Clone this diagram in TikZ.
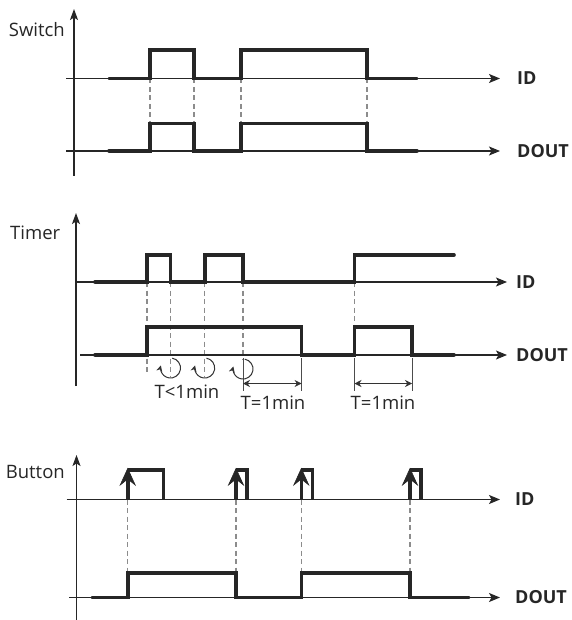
\documentclass[tikz,border=0pt]{standalone}
\usepackage{fontspec}
\setmainfont{Open Sans}
\usetikzlibrary{arrows.meta}
\begin{document}
\begin{tikzpicture}[x=1pt,y=-1pt,
  axis/.style={line width=1.2pt, black!85, -{Stealth[length=11pt,width=9pt,inset=2.5pt]}},
  vaxis/.style={line width=1.2pt, black!85, -{Stealth[length=11pt,width=8pt,inset=2.5pt]}},
  sig/.style={line width=3.6pt, black!85, line cap=round, line join=miter},
  guide/.style={line width=1.3pt, gray!90, dash pattern=on 5pt off 3.5pt},
  ext/.style={line width=0.8pt, black!70},
  dimline/.style={line width=0.8pt, black!80, {Stealth[length=7pt,width=7pt]}-{Stealth[length=7pt,width=7pt]}},
  turn/.style={line width=1pt, black!80, -{Stealth[length=6pt,width=6pt]}},
  btnshaft/.style={line width=3.6pt, black!85},
  btnhead/.style={fill=black!85, draw=black!85, line width=0.6pt, line join=miter},
  lbl/.style={font=\fontsize{18.5}{18.5}\selectfont, inner sep=0pt, text=black!85},
  outlbl/.style={font=\bfseries\fontsize{18}{18}\selectfont, inner sep=0pt, text=black!85},
  tlbl/.style={font=\fontsize{18.5}{18.5}\selectfont, inner sep=0pt, text=black!85}
]
\useasboundingbox (0,0) rectangle (571,620);

% ================= Switch =================
\foreach \x in {150,194,241,367}{\draw[guide] (\x,78.5) -- (\x,123.5);}
\draw[vaxis] (74,176) -- (74,9);
\draw[axis] (66,78.5) -- (500,78.5);
\draw[axis] (66,151) -- (500,151);
\draw[sig] (109,78.5) -- (150,78.5) -- (150,50) -- (194,50) -- (194,78.5) -- (241,78.5)
  -- (241,50) -- (367,50) -- (367,78.5) -- (417,78.5);
\draw[sig] (109,151) -- (150,151) -- (150,123.5) -- (194,123.5) -- (194,151) -- (241,151)
  -- (241,123.5) -- (367,123.5) -- (367,151) -- (417,151);
\node[lbl, anchor=east] (swl) at (65,30) {Switch};
\node[outlbl, anchor=west] (swid) at (517,78.5) {ID};
\node[outlbl, anchor=west] (swdo) at (517,151) {DOUT};

% ================= Timer =================
\draw[guide] (147,282) -- (147,375);
\draw[guide] (170.5,282) -- (170.5,377);
\draw[guide] (204.7,282) -- (204.7,377);
\draw[guide] (243,282) -- (243,360);
\draw[guide] (354.5,282) -- (354.5,327);
\draw[vaxis] (76,386) -- (76,213);
\draw[axis] (76,282) -- (507,282);
\draw[axis] (80,355) -- (507,355);
\draw[sig] (95,282) -- (147,282) -- (147,255) -- (170.5,255) -- (170.5,282) -- (204.7,282)
  -- (204.7,255) -- (243,255) -- (243,282) -- (354.5,282) -- (354.5,255) -- (454,255);
\draw[sig] (95,355) -- (147,355) -- (147,327) -- (301.6,327) -- (301.6,355) -- (354.5,355)
  -- (354.5,327) -- (412,327) -- (412,355) -- (454,355);
% extension lines
\draw[ext] (243,358) -- (243,391);
\draw[ext] (301.6,358) -- (301.6,391);
\draw[ext] (354.5,358) -- (354.5,391);
\draw[ext] (412,358) -- (412,391);
\coordinate (d1a) at (243,383.5);
\coordinate (d1b) at (301.6,383.5);
\coordinate (d2a) at (354.5,383.5);
\coordinate (d2b) at (412,383.5);
\draw[dimline] (d1a) -- (d1b);
\draw[dimline] (d2a) -- (d2b);
% turning arrows
\foreach \cx/\cy in {170.5/368, 204.7/368, 243/369}{
  \draw[turn] (\cx,\cy) ++(-80:10) arc[start angle=-80, end angle=195, radius=10];
}
\node[lbl, anchor=west] (tml) at (10,233) {Timer};
\node[outlbl, anchor=west] (tmid) at (516,282) {ID};
\node[outlbl, anchor=west] (tmdo) at (516,355) {DOUT};
\node[tlbl] (tl1) at (187,392) {T<1min};
\node[tlbl] (te1) at (273,403) {T=1min};
\node[tlbl] (te2) at (383,403) {T=1min};

% ================= Button =================
\foreach \x in {127.7,236,301.3,410}{\draw[guide] (\x,499.5) -- (\x,573);}
\draw[vaxis] (76.5,620) -- (76.5,455);
\draw[axis] (66.7,499.5) -- (500,499.5);
\draw[axis] (69,597.5) -- (500,597.5);
\draw[sig, line cap=butt] (127.7,470) -- (163.3,470) -- (163.3,499.5);
\draw[sig, line cap=butt] (236,470) -- (246.7,470) -- (246.7,499.5);
\draw[sig, line cap=butt] (301.3,470) -- (312.3,470) -- (312.3,499.5);
\draw[sig, line cap=butt] (410,470) -- (421,470) -- (421,499.5);
\foreach \x in {127.7,236,301.3,410}{
  \draw[btnshaft] (\x,499.5) -- (\x,476);
  \draw[btnhead] (\x,468.5) -- (\x+7.5,485) -- (\x,479) -- (\x-7.5,485) -- cycle;
}
\draw[sig] (92,597.5) -- (127.7,597.5) -- (127.7,573) -- (236,573) -- (236,597.5) -- (301.3,597.5)
  -- (301.3,573) -- (410,573) -- (410,597.5) -- (469,597.5);
\node[lbl, anchor=east] (btl) at (65,472) {Button};
\node[outlbl, anchor=west] (btid) at (515,499.5) {ID};
\node[outlbl, anchor=west] (btdo) at (515,597.5) {DOUT};
\end{tikzpicture}
\end{document}
